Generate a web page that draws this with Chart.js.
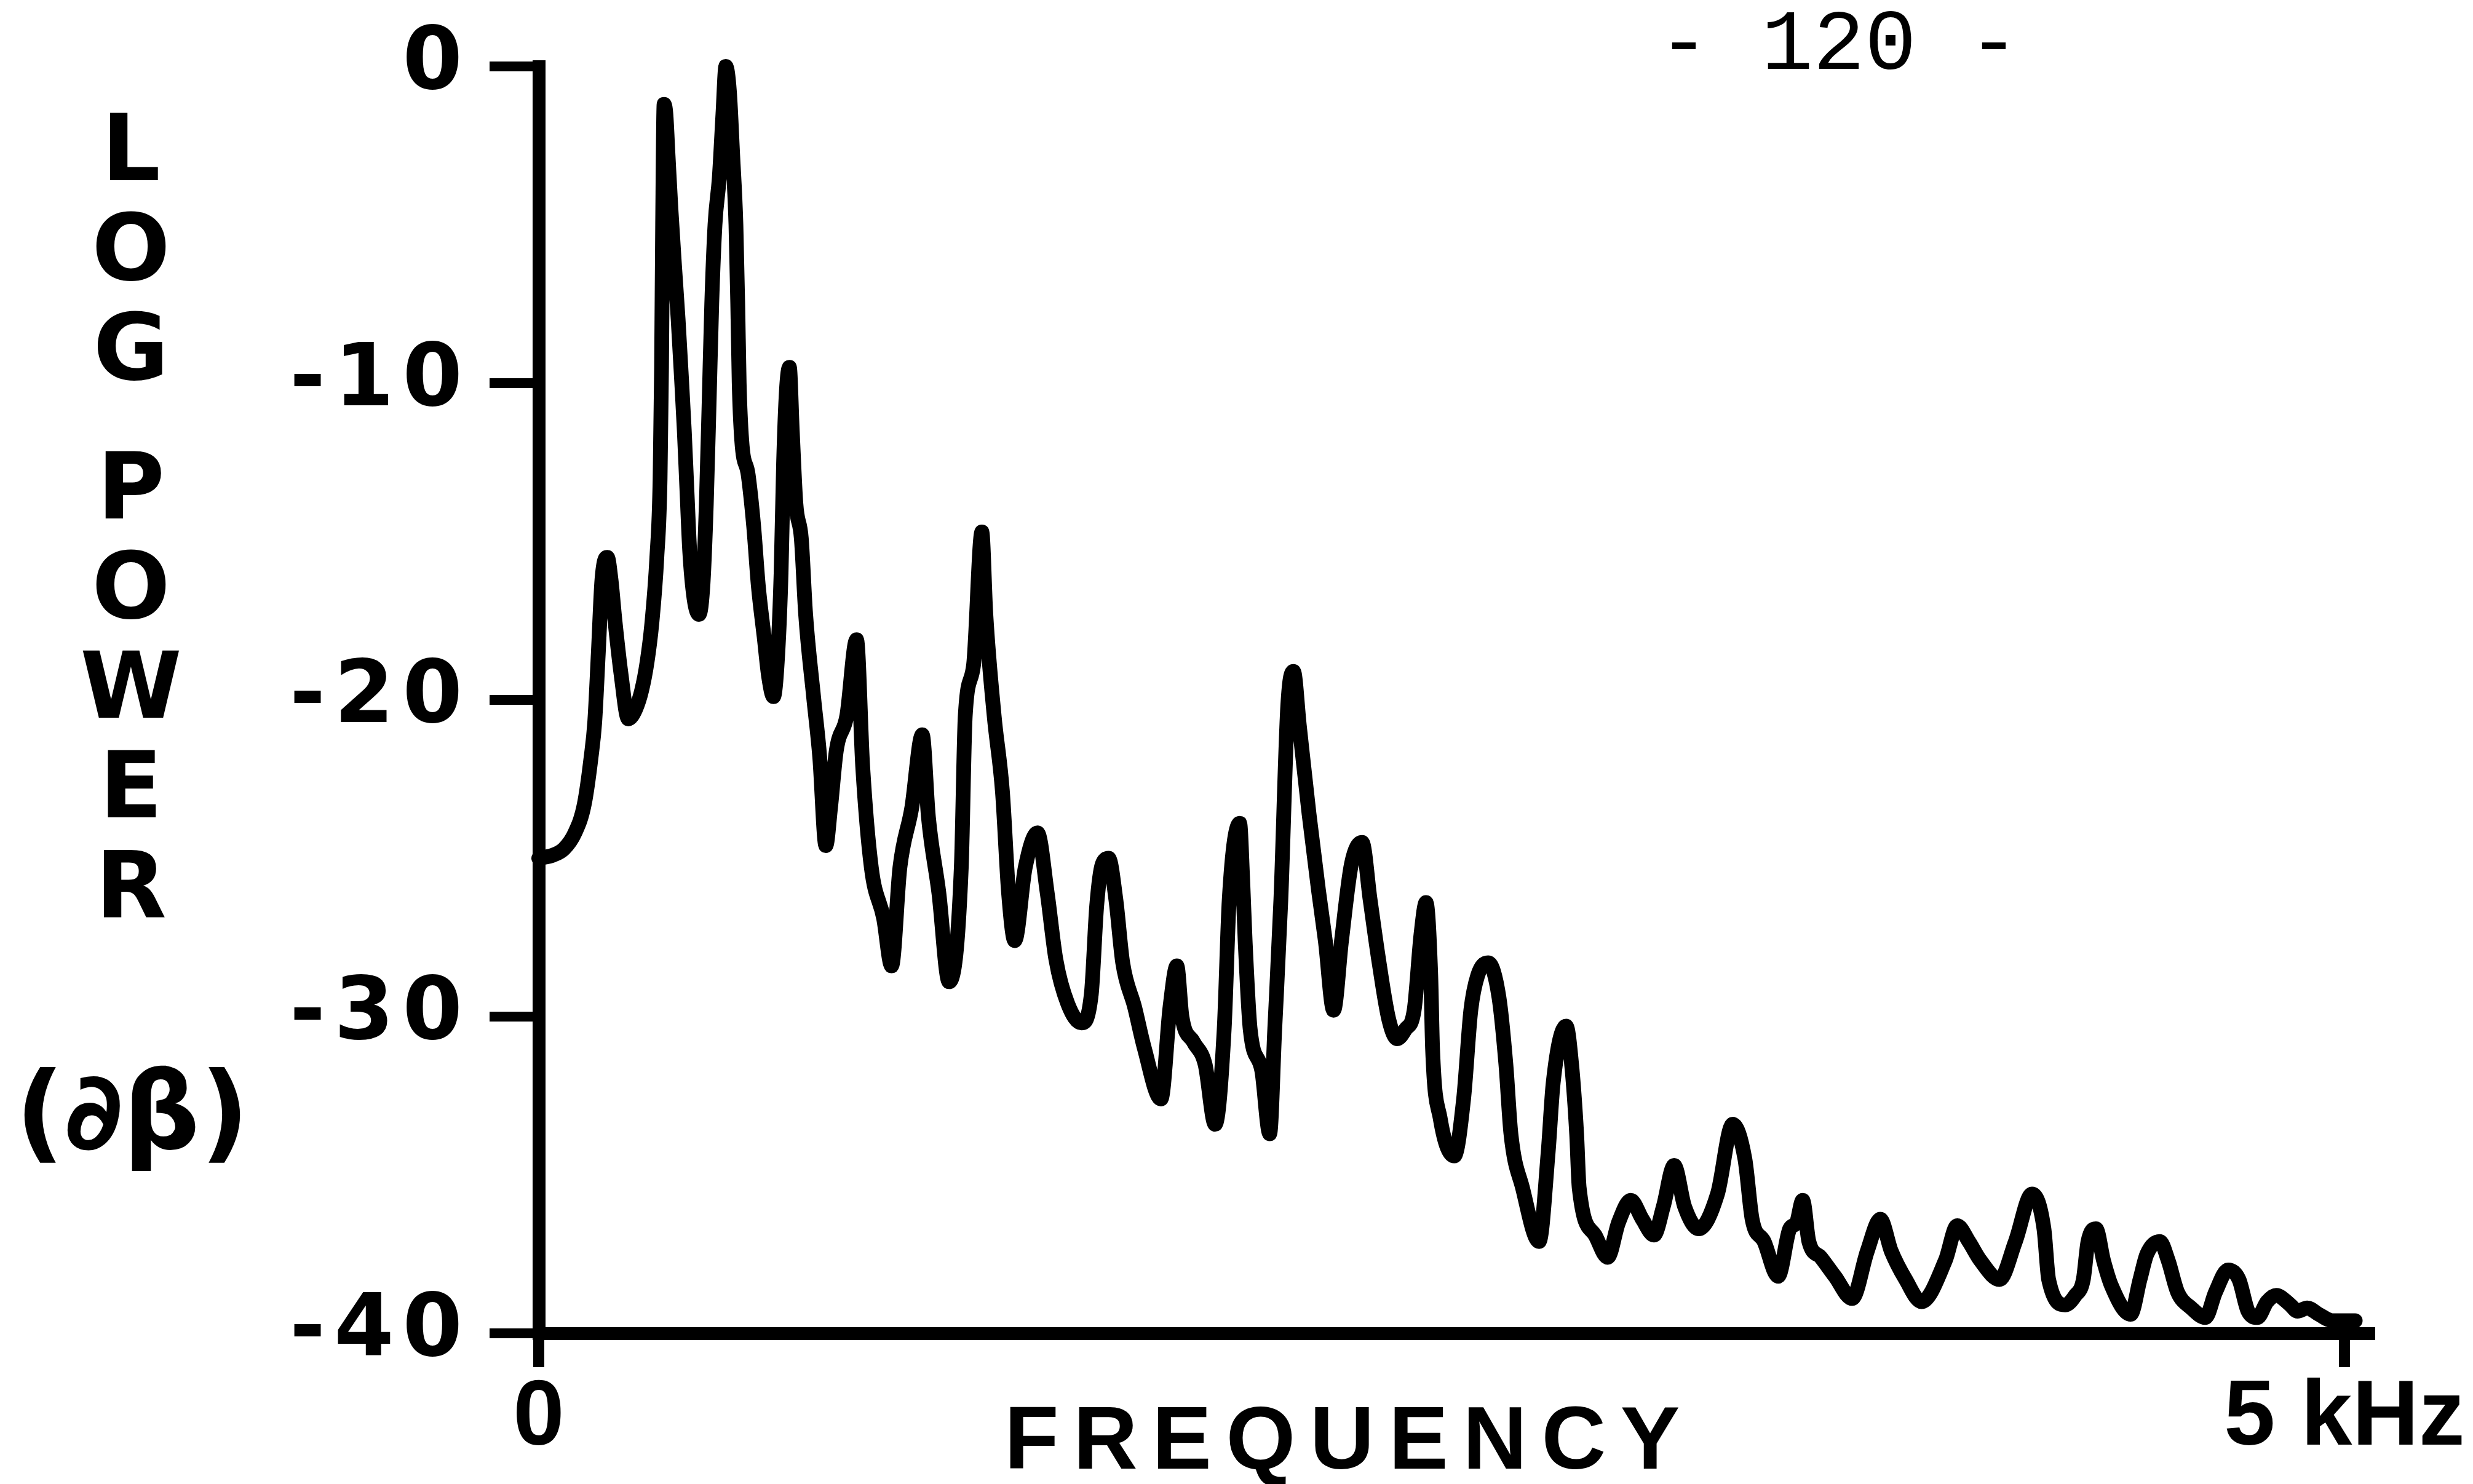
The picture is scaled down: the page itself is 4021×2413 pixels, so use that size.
<!DOCTYPE html>
<html>
<head>
<meta charset="utf-8">
<script src="https://cdn.jsdelivr.net/npm/chart.js@4.4.1/dist/chart.umd.min.js"></script>
<style>
  html, body { margin: 0; padding: 0; background: #ffffff; }
  #wrap { position: relative; width: 4021px; height: 2413px; }
</style>
</head>
<body>
<div id="wrap"><canvas id="c" width="4021" height="2413"></canvas></div>
<script>
// ---- data ----
const freq = [
  0.00, 0.04, 0.07, 0.10, 0.126, 0.145, 0.155, 0.165, 0.175, 0.19,
  0.20, 0.211, 0.228, 0.248, 0.268, 0.285, 0.30, 0.313, 0.327, 0.336,
  0.34, 0.343, 0.347, 0.352, 0.358, 0.366, 0.376, 0.386, 0.395, 0.403,
  0.41, 0.418, 0.43, 0.444, 0.455, 0.464, 0.472, 0.479, 0.488, 0.50,
  0.51, 0.518, 0.528, 0.537, 0.546, 0.551, 0.555, 0.562, 0.58, 0.595,
  0.608, 0.624, 0.637, 0.65, 0.662, 0.671, 0.678, 0.686, 0.694, 0.702,
  0.712, 0.727, 0.739, 0.761, 0.778, 0.795, 0.808, 0.824, 0.853, 0.88,
  0.897, 0.921, 0.955, 0.977, 1.00, 1.033, 1.062, 1.079, 1.108, 1.136,
  1.17, 1.181, 1.204, 1.227, 1.238, 1.261, 1.284, 1.301, 1.318, 1.347,
  1.381, 1.408, 1.432, 1.465, 1.503, 1.53, 1.545, 1.56, 1.578, 1.598,
  1.617, 1.65, 1.677, 1.723, 1.748, 1.767, 1.781, 1.813, 1.845, 1.873,
  1.898, 1.912, 1.941, 1.949, 1.956, 1.97, 2.002, 2.024, 2.038, 2.055,
  2.074, 2.09, 2.106, 2.133, 2.159, 2.178, 2.201, 2.223, 2.25, 2.28,
  2.302, 2.327, 2.354, 2.377, 2.40, 2.424, 2.443, 2.457, 2.47, 2.475,
  2.496, 2.535, 2.561, 2.581, 2.60, 2.629, 2.659, 2.678, 2.692, 2.724,
  2.77, 2.795, 2.809, 2.845, 2.86, 2.874, 2.881, 2.925, 2.96, 2.99,
  3.024, 3.056, 3.088, 3.114, 3.144, 3.173, 3.212, 3.264, 3.306, 3.34,
  3.36, 3.393, 3.432, 3.464, 3.483, 3.50, 3.517, 3.55, 3.589, 3.637,
  3.679, 3.715, 3.745, 3.785, 3.829, 3.895, 3.928, 3.96, 3.992, 4.045,
  4.089, 4.135, 4.168, 4.181, 4.227, 4.255, 4.277, 4.29, 4.312, 4.333,
  4.355, 4.408, 4.434, 4.453, 4.489, 4.512, 4.538, 4.576, 4.615, 4.643,
  4.678, 4.708, 4.733, 4.759, 4.786, 4.811, 4.85, 4.87, 4.897, 4.929,
  4.967, 5.03
];
const power = [
  -25.0, -24.9, -24.7, -24.2, -23.3, -21.8, -20.7, -18.5, -16.2, -15.5,
  -16.2, -17.5, -19.2, -20.6, -20.3, -19.7, -18.8, -17.6, -15.5, -13.0,
  -9.5, -5.0, -1.2, -1.5, -2.8, -4.5, -6.3, -8.0, -9.8, -11.5,
  -13.3, -15.3, -16.8, -17.3, -16.3, -13.8, -10.5, -7.5, -5.0, -3.5,
  -1.5, 0.0, -0.8, -2.8, -5.0, -7.5, -10.0, -11.8, -12.9, -14.5,
  -16.4, -18.0, -19.3, -19.9, -18.5, -16.0, -12.5, -10.2, -9.5, -11.5,
  -13.8, -14.9, -17.3, -19.9, -21.8, -24.6, -23.4, -21.6, -20.5, -18.1,
  -22.1, -25.3, -26.9, -28.4, -25.3, -23.4, -21.1, -23.7, -26.1, -28.9,
  -25.3, -20.5, -18.9, -14.7, -17.3, -20.5, -22.9, -26.1, -27.6, -25.3,
  -24.2, -26.1, -28.2, -29.6, -30.2, -29.3, -26.5, -25.2, -25.0, -26.3,
  -28.3, -29.7, -31.0, -32.6, -29.7, -28.4, -30.0, -30.8, -31.5, -33.4,
  -30.4, -26.3, -23.9, -25.6, -27.6, -30.4, -31.7, -33.7, -30.4, -26.3,
  -20.2, -19.1, -20.8, -23.6, -26.0, -27.6, -29.8, -27.6, -25.2, -24.5,
  -26.3, -28.3, -30.1, -30.7, -30.4, -29.8, -27.4, -26.4, -28.7, -31.0,
  -33.2, -34.4, -32.6, -29.8, -28.7, -28.3, -29.4, -31.5, -33.7, -35.4,
  -37.1, -34.3, -32.1, -30.3, -31.5, -33.7, -35.4, -36.9, -37.6, -36.5,
  -35.8, -36.4, -36.9, -36.0, -34.7, -36.0, -36.7, -35.6, -33.4, -34.5,
  -36.4, -37.1, -38.2, -36.7, -36.5, -35.8, -37.1, -37.6, -38.2, -38.9,
  -37.4, -36.4, -37.4, -38.3, -39.0, -37.7, -36.6, -37.1, -37.7, -38.3,
  -37.1, -35.6, -36.7, -38.3, -39.1, -38.8, -38.3, -37.1, -36.7, -37.7,
  -38.5, -39.4, -38.3, -37.5, -37.1, -37.7, -38.7, -39.2, -39.5, -38.7,
  -38.0, -38.3, -39.3, -39.5, -39.0, -38.8, -39.1, -39.3, -39.2, -39.4,
  -39.6, -39.6
];
const xTickValues = [0, 5];
const xTickLabels = ['0', '5 kHz'];
const yTickValues = [0, -10, -20, -30, -40];
const yTickLabels = ['0', '-10', '-20', '-30', '-40'];
const pageLabel = '- 120 -';
const xTitle = 'FREQUENCY';
const yTitle = 'LOG POWER';
const yUnit = '(\u2202\u03B2)';

// ---- styling ----
const INK = '#000000';
const SANS = '"DejaVu Sans", "Liberation Sans", sans-serif';

const textPlugin = {
  id: 'paperTexts',
  afterDraw(chart) {
    const ctx = chart.ctx;
    ctx.save();
    ctx.fillStyle = INK;

    // page number at the top
    ctx.letterSpacing = '0px';
    ctx.font = '140px "Liberation Mono", "DejaVu Sans Mono", monospace';
    ctx.textAlign = 'center';
    ctx.textBaseline = 'alphabetic';
    ctx.fillText(pageLabel, 2990, 112);

    // x axis title, spread to the width it has on the page
    ctx.font = 'bold 145px "Liberation Sans Narrow", "Liberation Sans", sans-serif';
    ctx.textAlign = 'left';
    ctx.letterSpacing = '0px';
    const w0 = ctx.measureText(xTitle).width;
    const sp = Math.max(0, (1098 - w0) / (xTitle.length - 1));
    ctx.letterSpacing = sp.toFixed(1) + 'px';
    ctx.fillText(xTitle, 1633, 2388);

    // y axis title, letters stacked
    ctx.letterSpacing = '0px';
    ctx.font = 'bold 150px ' + SANS;
    ctx.textAlign = 'center';
    ctx.textBaseline = 'middle';
    let yPos = 254;
    for (const ch of yTitle) {
      if (ch === ' ') { yPos += 64; continue; }
      ctx.fillText(ch, 213, yPos);
      yPos += 162;
    }
    ctx.font = 'bold 175px ' + SANS;
    ctx.fillText(yUnit, 215, 1823);
    ctx.restore();
  }
};

function spacedLabels(s) {
  if (s._spaced) return;
  const orig = s.drawLabels.bind(s);
  s.drawLabels = function (area) {
    const c = this.ctx;
    const prev = c.letterSpacing;
    c.letterSpacing = '14px';
    orig(area);
    c.letterSpacing = prev || '0px';
  };
  s._spaced = true;
}

const ctx = document.getElementById('c').getContext('2d');
new Chart(ctx, {
  type: 'line',
  data: {
    datasets: [{
      data: freq.map((f, i) => ({ x: f, y: power[i] })),
      borderColor: INK,
      borderWidth: 24,
      pointRadius: 0,
      fill: false,
      cubicInterpolationMode: 'monotone',
      borderJoinStyle: 'round',
      borderCapStyle: 'round',
      clip: false
    }]
  },
  options: {
    responsive: false,
    devicePixelRatio: 1,
    animation: false,
    layout: { padding: { left: 0, top: 108, right: 168, bottom: 0 } },
    plugins: { legend: { display: false }, tooltip: { enabled: false }, title: { display: false } },
    scales: {
      x: {
        type: 'linear',
        min: 0,
        max: 5.07,
        afterBuildTicks: s => { s.ticks = xTickValues.map(v => ({ value: v })); },
        afterFit: s => { s.height = 245; s.paddingLeft = 0; s.paddingRight = 0; },
        grid: { drawOnChartArea: false, drawTicks: true, tickLength: 55, tickWidth: 18, lineWidth: 18, color: INK, tickColor: INK },
        border: { display: true, width: 21, color: INK },
        ticks: {
          autoSkip: false, maxRotation: 0, minRotation: 0, padding: 10, color: INK,
          font: { family: '"Liberation Sans", sans-serif', size: 150, weight: 'bold', lineHeight: 1 },
          callback: v => { const k = xTickValues.indexOf(v); return k >= 0 ? xTickLabels[k] : ''; }
        }
      },
      y: {
        type: 'linear',
        min: -40,
        max: 0,
        afterBuildTicks: s => { s.ticks = yTickValues.map(v => ({ value: v })); },
        afterFit: s => { s.width = 876; s.paddingTop = 0; s.paddingBottom = 0; spacedLabels(s); },
        grid: { drawOnChartArea: false, drawTicks: true, tickLength: 80, tickWidth: 16, lineWidth: 16, color: INK, tickColor: INK },
        border: { display: true, width: 21, color: INK },
        ticks: {
          autoSkip: false, padding: 30, color: INK,
          font: { family: SANS, size: 140, weight: 'bold', lineHeight: 1 },
          callback: v => { const k = yTickValues.indexOf(v); return k >= 0 ? yTickLabels[k] : ''; }
        }
      }
    }
  },
  plugins: [textPlugin]
});
</script>
</body>
</html>
